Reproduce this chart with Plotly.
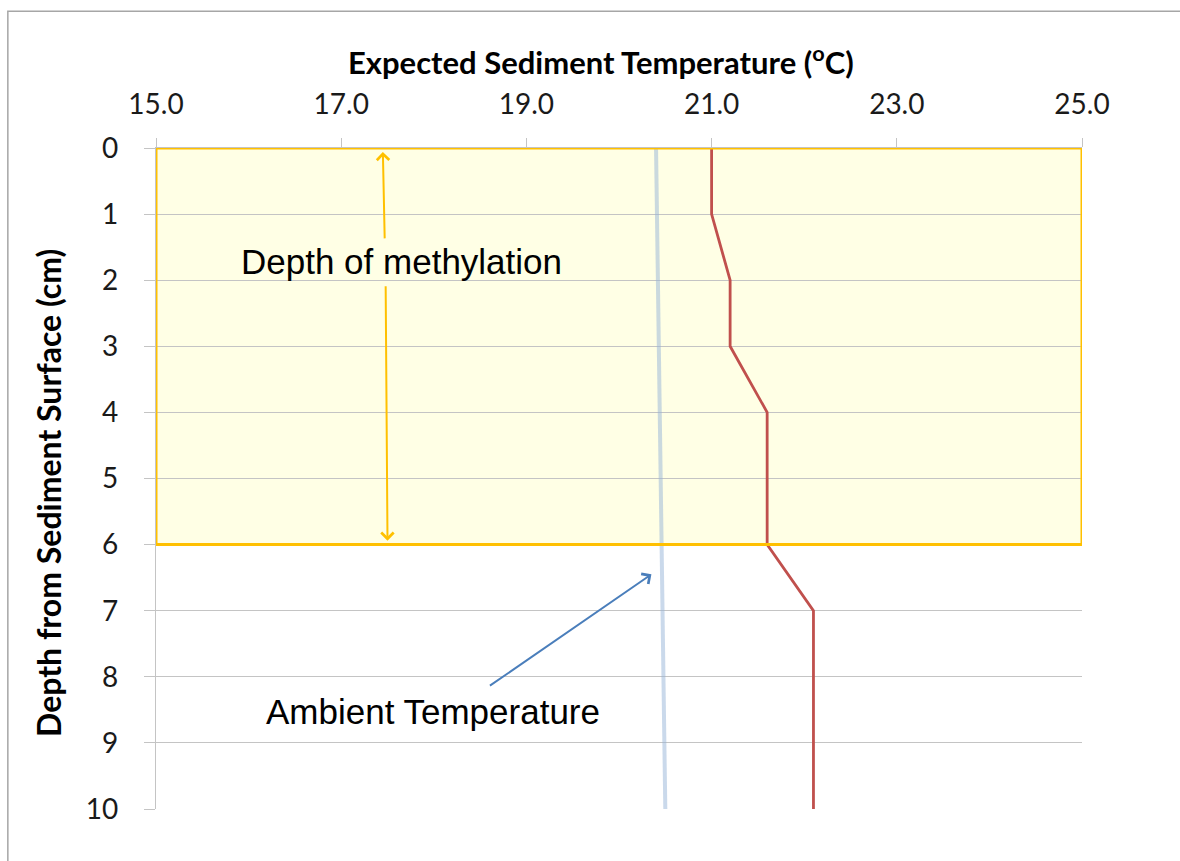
import plotly.graph_objects as go

# Sediment depth (cm) and temperatures (deg C)
depth = [0, 1, 2, 3, 4, 5, 6, 7, 8, 9, 10]
expected_temp = [21.0, 21.0, 21.2, 21.2, 21.6, 21.6, 21.6, 22.1, 22.1, 22.1, 22.1]
ambient_depth = [0, 10]
ambient_temp = [20.4, 20.5]

x_ticks = [15, 17, 19, 21, 23, 25]
y_ticks = list(range(0, 11))

methylation_top = 0
methylation_bottom = 6

TICK_FONT = dict(family="Lato", size=28, color="#1a1a1a")
XTITLE_FONT = dict(family="Lato", size=31, color="#000000")
YTITLE_FONT = dict(family="Lato", size=32, color="#000000")
NOTE_FONT = dict(family="Liberation Sans", size=35, color="#000000")
GRID = "#c4c4c4"

fig = go.Figure()

fig.add_trace(go.Scatter(
    x=ambient_temp, y=ambient_depth, mode="lines",
    line=dict(color="rgba(149,179,215,0.5)", width=4),
    showlegend=False, hoverinfo="skip",
))
fig.add_trace(go.Scatter(
    x=expected_temp, y=depth, mode="lines",
    line=dict(color="#c0504d", width=2.8),
    showlegend=False,
))

# Methylation zone: fill under the grid, orange outline on top
fig.add_shape(type="rect", xref="x", yref="y",
              x0=x_ticks[0], x1=x_ticks[-1], y0=methylation_top, y1=methylation_bottom,
              fillcolor="#ffffe5", line=dict(width=0), layer="below")
fig.add_shape(type="rect", xref="x", yref="y",
              x0=x_ticks[0], x1=x_ticks[-1], y0=methylation_top, y1=methylation_bottom,
              line=dict(color="#ffc000", width=3), layer="above")

# Outer frame
fig.add_shape(type="rect", xref="paper", yref="paper",
              x0=-0.16, x1=1.2, y0=-0.2, y1=1.207,
              line=dict(color="#a6a6a6", width=1.5), layer="above")

# Arrow spanning the methylation depth, interrupted by its label
ARROW_ORANGE = dict(showarrow=True, arrowhead=4, arrowsize=1.2, arrowwidth=2,
                    arrowcolor="#ffc000", xref="x", yref="y", axref="x", ayref="y", text="")
fig.add_annotation(x=17.45, y=0.06, ax=17.47, ay=1.39, **ARROW_ORANGE)
fig.add_annotation(x=17.5, y=5.94, ax=17.48, ay=2.07, **ARROW_ORANGE)
fig.add_annotation(x=17.65, y=1.72, xref="x", yref="y", text="Depth of methylation",
                   showarrow=False, font=NOTE_FONT)

# Pointer to the ambient temperature line
fig.add_annotation(x=20.35, y=6.45, ax=18.59, ay=8.15, xref="x", yref="y",
                   axref="x", ayref="y", text="", showarrow=True,
                   arrowhead=4, arrowsize=1.2, arrowwidth=2, arrowcolor="#4a7ebb")
fig.add_annotation(x=17.99, y=8.53, xref="x", yref="y", text="Ambient Temperature",
                   showarrow=False, font=NOTE_FONT)

# Axis titles
fig.add_annotation(x=(601 - 156) / 926, y=1 + (148 - 60) / 661, xref="paper", yref="paper",
                   text="<b>Expected Sediment Temperature (<sup>o</sup>C)</b>",
                   showarrow=False, font=XTITLE_FONT, xanchor="center", yanchor="middle")
fig.add_annotation(x=(48 - 156) / 926, y=1 - (493 - 148) / 661, xref="paper", yref="paper",
                   text="<b>Depth from Sediment Surface (cm)</b>", textangle=-90,
                   showarrow=False, font=YTITLE_FONT, xanchor="center", yanchor="middle")

fig.update_xaxes(
    side="top", range=[x_ticks[0], x_ticks[-1]], tickvals=x_ticks,
    ticktext=[f"{v:.1f}" for v in x_ticks], tickfont=TICK_FONT,
    showgrid=False, zeroline=False, showline=True, linecolor=GRID, linewidth=1.3,
    ticks="outside", ticklen=9, tickcolor=GRID, tickwidth=1.3, ticklabelstandoff=13,
)
fig.update_yaxes(
    range=[10, 0], tickvals=y_ticks, tickfont=TICK_FONT,
    showgrid=True, gridcolor=GRID, gridwidth=1.3, zeroline=False,
    showline=True, linecolor=GRID, linewidth=1.3,
    ticks="outside", ticklen=11, tickcolor=GRID, tickwidth=1.3, ticklabelstandoff=20,
)

fig.update_layout(
    width=1180, height=861,
    margin=dict(l=156, r=98, t=148, b=52),
    plot_bgcolor="white", paper_bgcolor="white",
    showlegend=False,
)

fig.write_html("out.html")
